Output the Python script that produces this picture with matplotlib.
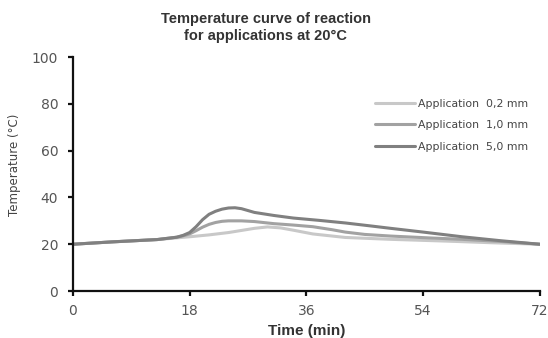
import matplotlib
matplotlib.use("Agg")
import matplotlib.pyplot as plt

title = "Temperature curve of reaction\nfor applications at 20°C"
x_label = "Time (min)"
y_label = "Temperature (°C)"
x_ticks = [0, 18, 36, 54, 72]
y_ticks = [0, 20, 40, 60, 80, 100]

labels = ["Application  0,2 mm", "Application  1,0 mm", "Application  5,0 mm"]

t_02 = [0, 6, 13, 18, 21, 24, 26, 28, 30, 32, 34, 37, 42, 49, 58, 65, 72]
temp_02 = [20, 21, 22, 23.2, 24, 25, 25.9, 26.8, 27.4, 27.0, 26.0, 24.4, 22.9, 22.1, 21.3, 20.6, 20]

t_10 = [0, 6, 13, 16, 17, 18, 19, 20, 21, 22, 23, 24, 26, 28, 31, 34, 37, 40, 42, 45, 49, 55, 60, 66, 72]
temp_10 = [20, 21, 22, 23, 23.6, 24.4, 25.8, 27.3, 28.5, 29.3, 29.8, 30, 30, 29.7, 28.8, 28.2, 27.5, 26.2, 25.2, 24.2, 23.5, 22.7, 22.1, 21.2, 20]

t_50 = [0, 6, 13, 16, 17, 18, 19, 20, 21, 22, 23, 24, 25, 26, 27, 28, 31, 34, 38, 42, 46, 49, 54, 60, 66, 72]
temp_50 = [20, 21, 22, 23, 23.8, 25, 27.5, 30.5, 32.8, 34.1, 35.0, 35.5, 35.6, 35.2, 34.4, 33.6, 32.3, 31.2, 30.2, 29.1, 27.8, 26.8, 25.2, 23.2, 21.5, 20]

colors = ["#c8c8c8", "#a2a2a2", "#808080"]

plt.rcParams["font.family"] = ["DejaVu Sans"]

fig = plt.figure(figsize=(5.48, 3.38), dpi=100)
ax = fig.add_axes([0.133, 0.139, 0.852, 0.692])

for tx, ty, c, lab in zip([t_02, t_10, t_50], [temp_02, temp_10, temp_50], colors, labels):
    ax.plot(tx, ty, color=c, lw=2.2, label=lab, solid_capstyle="round", solid_joinstyle="round")

ax.set_xlim(0, 72)
ax.set_ylim(0, 100)
ax.set_xticks(x_ticks)
ax.set_yticks(y_ticks)
for s in ["top", "right"]:
    ax.spines[s].set_visible(False)
for s in ["left", "bottom"]:
    ax.spines[s].set_linewidth(1.6)
    ax.spines[s].set_color("#111111")
ax.tick_params(axis="both", labelsize=10, labelcolor="#555555", color="#111111",
               width=1.6, length=3.5, direction="out")
ax.tick_params(axis="y", pad=7)
ax.tick_params(axis="x", pad=6)
ax.set_xlabel(x_label, fontsize=11, fontweight="bold", color="#333333", labelpad=4,
              family="Liberation Sans")
ax.set_ylabel(y_label, fontsize=8.5, color="#444444")
ax.yaxis.set_label_coords(-0.112, 0.538)
fig.suptitle(title, fontsize=10.5, fontweight="bold", color="#333333", x=0.485, y=0.965,
             linespacing=1.25, family="Liberation Sans")

leg = ax.legend(loc="upper left", bbox_to_anchor=(0.647, 0.822), frameon=False,
                borderaxespad=0, borderpad=0,
                fontsize=7.8, handlelength=3.7, handletextpad=0.28, labelspacing=1.05,
                labelcolor="#444444")

fig.savefig("out.png", dpi=100)
